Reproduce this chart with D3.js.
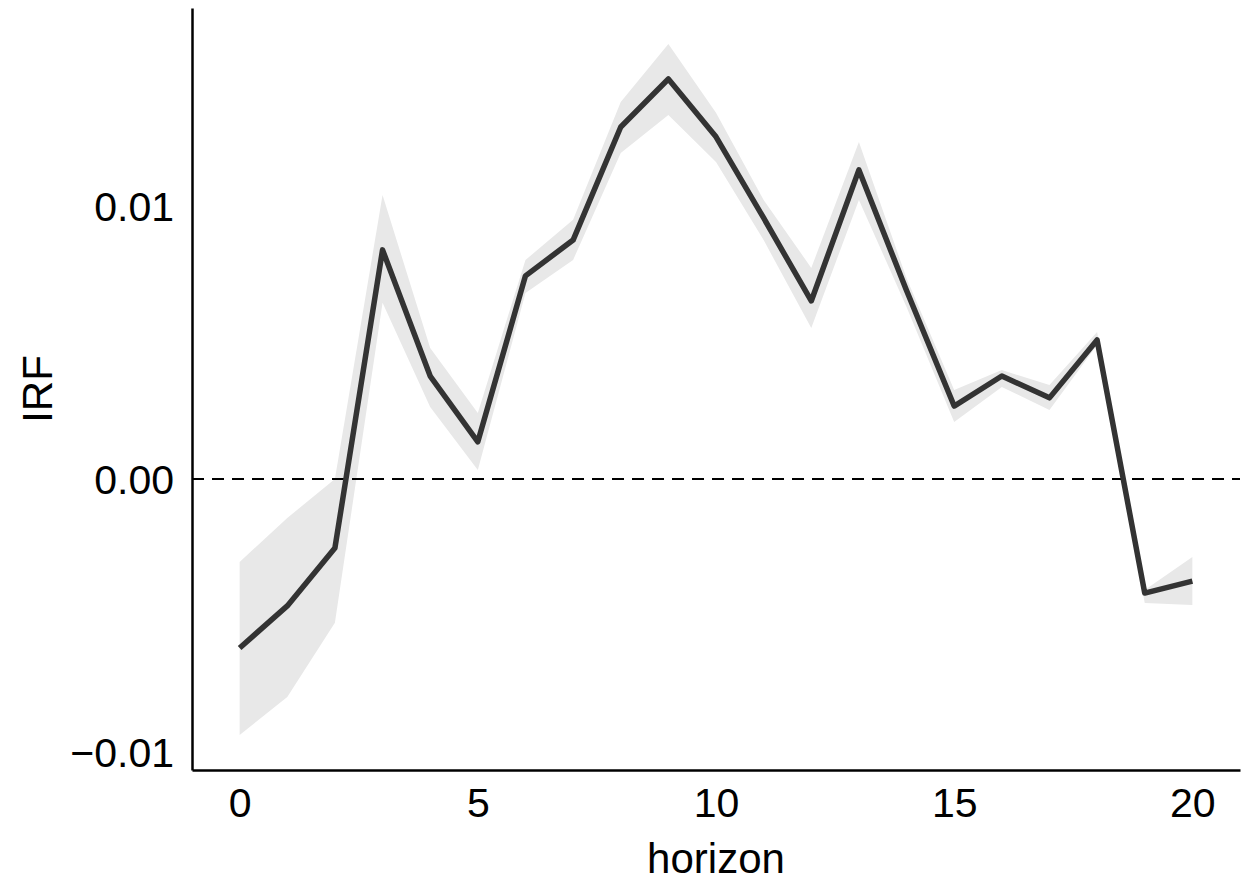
<!DOCTYPE html>
<html lang="en">
<head>
    <meta charset="UTF-8">
    <title>IRF</title>
    <script src="https://cdn.jsdelivr.net/npm/d3@7"></script>
    <style>
        body { margin: 0; background: #fff; }
        text { font-family: "Liberation Sans", Arial, sans-serif; fill: #000; }
    </style>
</head>
<body>
    <div class="chart"></div>
<script>
    const horizon = d3.range(0, 21)
    const irf = [-0.00619, -0.00465, -0.00253, 0.00839, 0.00377, 0.00136, 0.00744, 0.00875, 0.01289, 0.01465,
        0.01253, 0.00956, 0.00652, 0.01132, 0.0069, 0.00267, 0.00377, 0.00297, 0.00509, -0.00418, -0.00374]
    const upper = [-0.00304, -0.00143, 0.0000, 0.0104, 0.0048, 0.00242, 0.00802, 0.00949, 0.01381, 0.01593,
        0.01341, 0.01022, 0.00773, 0.01234, 0.00735, 0.00326, 0.00399, 0.00344, 0.00538, -0.00407, -0.00286]
    const lower = [-0.00938, -0.00799, -0.00527, 0.00645, 0.00264, 0.00033, 0.00681, 0.00802, 0.01194, 0.01333,
        0.01161, 0.00875, 0.00553, 0.01022, 0.0063, 0.00209, 0.00337, 0.00253, 0.00491, -0.00454, -0.00462]
    const xTicks = [0, 5, 10, 15, 20]
    const yTicks = [-0.01, 0, 0.01]

    const width = 1243
    const height = 884
    const margin = { top: 8, right: 3, bottom: 114, left: 192 }

    const svg = d3.select('.chart').append('svg')
        .attr('width', width)
        .attr('height', height)

    const x = d3.scaleLinear().domain([-1, 21]).range([margin.left, width - margin.right])
    const y = d3.scaleLinear().domain([-0.01066, 0.01725]).range([height - margin.bottom, margin.top])

    const rows = horizon.map((h, i) => ({ h, v: irf[i], lo: lower[i], hi: upper[i] }))

    // confidence band
    const area = d3.area().x(d => x(d.h)).y0(d => y(d.lo)).y1(d => y(d.hi))
    svg.append('path')
        .datum(rows)
        .attr('fill', '#e8e8e8')
        .attr('d', area)

    // zero line
    svg.append('line')
        .attr('x1', x(-1)).attr('x2', x(21))
        .attr('y1', y(0)).attr('y2', y(0))
        .attr('stroke', '#000')
        .attr('stroke-width', 2)
        .attr('stroke-dasharray', '12,8')

    // irf line
    const line = d3.line().x(d => x(d.h)).y(d => y(d.v))
    svg.append('path')
        .datum(rows)
        .attr('fill', 'none')
        .attr('stroke', '#333333')
        .attr('stroke-width', 5.5)
        .attr('stroke-linejoin', 'round')
        .attr('d', line)

    // axes
    const xAxis = d3.axisBottom(x).tickValues(xTicks).tickSize(0).tickPadding(18).tickFormat(d3.format('d'))
    const gx = svg.append('g')
        .attr('transform', `translate(0, ${height - margin.bottom})`)
        .call(xAxis)
    const yAxis = d3.axisLeft(y).tickValues(yTicks).tickSize(0).tickPadding(18)
        .tickFormat(d => d === 0 ? '0.00' : d3.format('.2f')(d).replace('-', '\u2212'))
    const gy = svg.append('g')
        .attr('transform', `translate(${margin.left}, 0)`)
        .call(yAxis)

    for (const g of [gx, gy]) {
        g.select('.domain').attr('stroke', '#000').attr('stroke-width', 2.5)
        g.selectAll('.tick text')
            .style('font-size', '41px')
            .attr('fill', '#000')
            .style('font-family', '"Liberation Sans", Arial, sans-serif')
    }
    gy.selectAll('.tick text').attr('dy', '0.36em')

    // titles
    svg.append('text')
        .attr('x', (x(-1) + x(21)) / 2)
        .attr('y', 873)
        .attr('text-anchor', 'middle')
        .style('font-size', '42px')
        .text('horizon')

    svg.append('text')
        .attr('transform', `translate(52, ${(y.range()[0] + y.range()[1]) / 2}) rotate(-90)`)
        .attr('text-anchor', 'middle')
        .style('font-size', '42px')
        .text('IRF')
</script>
</body>
</html>
